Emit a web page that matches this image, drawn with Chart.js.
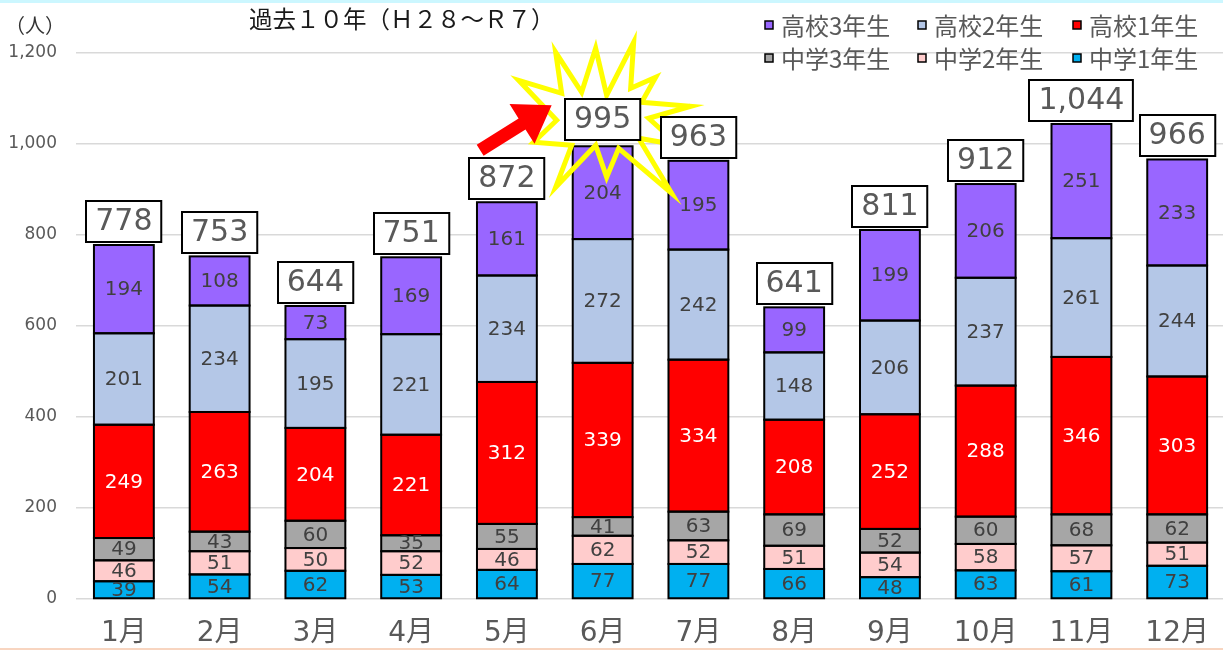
<!DOCTYPE html>
<html>
<head>
<meta charset="utf-8">
<script src="https://cdn.jsdelivr.net/npm/chart.js@4/dist/chart.umd.min.js"></script>
<style>
  html, body { margin:0; padding:0; background:#fff; overflow:hidden; width:1223px; height:650px; }
  #wrap { position:relative; width:1227px; height:650px; }
  #topline { position:absolute; left:0; top:0; width:1223px; height:3px; background:#CCF7FF; z-index:2; }
  #botline { position:absolute; left:0; top:648px; width:1223px; height:2px; background:#F8D5C0; z-index:2; }
</style>
</head>
<body>
<div id="wrap">
  <canvas id="c" width="1227" height="650" style="width:1227px;height:650px;display:block"></canvas>
</div>
<div id="topline"></div>
<div id="botline"></div>
<script>
// ---- data ----
const categories = ['1月','2月','3月','4月','5月','6月','7月','8月','9月','10月','11月','12月'];
const chu1 = [39, 54, 62, 53, 64, 77, 77, 66, 48, 63, 61, 73];
const chu2 = [46, 51, 50, 52, 46, 62, 52, 51, 54, 58, 57, 51];
const chu3 = [49, 43, 60, 35, 55, 41, 63, 69, 52, 60, 68, 62];
const kou1 = [249, 263, 204, 221, 312, 339, 334, 208, 252, 288, 346, 303];
const kou2 = [201, 234, 195, 221, 234, 272, 242, 148, 206, 237, 261, 244];
const kou3 = [194, 108, 73, 169, 161, 204, 195, 99, 199, 206, 251, 233];
const seriesNames = ['中学1年生','中学2年生','中学3年生','高校1年生','高校2年生','高校3年生'];
const yTicks = [0, 200, 400, 600, 800, 1000, 1200];
const titleText = '過去１０年（Ｈ２８～Ｒ７）';
const unitText = '（人）';
const highlightIndex = 5; // 6月

const colors = ['#00B0F0','#FFCCCC','#A6A6A6','#FF0000','#B4C7E7','#9966FF'];
const labelColors = ['#404040','#404040','#404040','#FFFFFF','#404040','#404040'];
const seriesData = [chu1, chu2, chu3, kou1, kou2, kou3];

const NUMFONT = '"DejaVu Sans", "Noto Sans CJK JP", sans-serif';
const JPFONT = '"Noto Sans CJK JP", "DejaVu Sans", sans-serif';

const datasets = seriesData.map((d, i) => ({
  label: seriesNames[i],
  data: d,
  backgroundColor: colors[i],
  borderWidth: 0,
  barPercentage: 0.625,
  categoryPercentage: 1.0,
  stack: 's'
}));

const fmt = v => v.toLocaleString('en-US');

const overlay = {
  id: 'overlay',
  afterDatasetsDraw(chart) {
    const ctx = chart.ctx;
    const xs = chart.scales.x, ys = chart.scales.y;
    ctx.save();
    // segment borders
    ctx.strokeStyle = '#000000';
    ctx.lineWidth = 2;
    chart.data.datasets.forEach((ds, di) => {
      const meta = chart.getDatasetMeta(di);
      meta.data.forEach((bar) => {
        const p = bar.getProps(['x','y','base','width'], true);
        ctx.strokeRect(p.x - p.width/2, p.y, p.width, p.base - p.y);
      });
    });
    // segment labels
    ctx.font = '20px ' + NUMFONT;
    ctx.textAlign = 'center';
    ctx.textBaseline = 'middle';
    chart.data.datasets.forEach((ds, di) => {
      const meta = chart.getDatasetMeta(di);
      meta.data.forEach((bar, i) => {
        const yc = (bar.y + bar.base) / 2;
        ctx.fillStyle = labelColors[di];
        ctx.fillText(String(ds.data[i]), bar.x, yc + 1);
      });
    });

    // starburst + arrow around highlighted month (decoration anchored to scales)
    const totals = categories.map((_, i) => seriesData.reduce((s, d) => s + d[i], 0));
    const hx = xs.getPixelForValue(highlightIndex);
    const hy = ys.getPixelForValue(totals[highlightIndex]);
    const starPts = [
      [520,80],[563,93],[557,52],[583,92],[597,48],[608,95],[635,42],[632,88],
      [657,77],[643,102],[692,106],[650,118],[680,145],[640,138],[673,193],[620,148],
      [608,177],[597,145],[557,187],[573,145],[535,142],[558,120]
    ];
    ctx.beginPath();
    starPts.forEach((p, k) => {
      const px = hx + (p[0] - 604), py = hy + (p[1] - 146);
      if (k === 0) ctx.moveTo(px, py); else ctx.lineTo(px, py);
    });
    ctx.closePath();
    ctx.lineJoin = 'miter';
    ctx.strokeStyle = '#FFFF00';
    ctx.lineWidth = 5;
    ctx.stroke();

    // arrow
    const tail = [481.5, 150], tip = [553, 105];
    const dx = tip[0]-tail[0], dy = tip[1]-tail[1];
    const L = Math.hypot(dx, dy);
    const u = [dx/L, dy/L], n = [-u[1], u[0]];
    const headLen = 35, shaftHW = 6.5, headHW = 23.5;
    const bc = [tip[0]-u[0]*headLen, tip[1]-u[1]*headLen];
    const poly = [
      [tail[0]-n[0]*shaftHW, tail[1]-n[1]*shaftHW],
      [bc[0]-n[0]*shaftHW, bc[1]-n[1]*shaftHW],
      [bc[0]-n[0]*headHW, bc[1]-n[1]*headHW],
      tip,
      [bc[0]+n[0]*headHW, bc[1]+n[1]*headHW],
      [bc[0]+n[0]*shaftHW, bc[1]+n[1]*shaftHW],
      [tail[0]+n[0]*shaftHW, tail[1]+n[1]*shaftHW]
    ];
    ctx.beginPath();
    poly.forEach((p, k) => {
      const px = hx + (p[0]-604), py = hy + (p[1]-146);
      if (k === 0) ctx.moveTo(px, py); else ctx.lineTo(px, py);
    });
    ctx.closePath();
    ctx.fillStyle = '#FF0000';
    ctx.fill();

    // total boxes
    ctx.font = '30px ' + NUMFONT;
    totals.forEach((t, i) => {
      const x = xs.getPixelForValue(i);
      const yTop = ys.getPixelForValue(t);
      const txt = fmt(t);
      const w = ctx.measureText(txt).width + 18;
      const h = 41;
      const gap = (i === highlightIndex) ? 6 : 3;
      const bx = Math.round(x - w/2), by = Math.round(yTop - gap - h);
      ctx.fillStyle = '#FFFFFF';
      ctx.fillRect(bx, by, w, h);
      ctx.strokeStyle = '#000000';
      ctx.lineWidth = 2;
      ctx.strokeRect(bx, by, w, h);
      ctx.fillStyle = '#595959';
      ctx.textAlign = 'center';
      ctx.textBaseline = 'middle';
      ctx.fillText(txt, x, by + h/2 + 1);
    });

    // title
    ctx.font = '23.5px ' + JPFONT;
    ctx.fillStyle = '#1a1a1a';
    ctx.textAlign = 'left';
    ctx.textBaseline = 'middle';
    ctx.fillText(titleText, 249, 19);

    // unit
    ctx.font = '20px ' + JPFONT;
    ctx.fillStyle = '#333333';
    ctx.fillText(unitText, 5, 25);

    // legend (reverse order, 2 rows x 3 cols)
    const order = [5, 4, 3, 2, 1, 0];
    const colX = [765, 918, 1073];
    const rowY = [25, 58];
    ctx.font = '24px ' + JPFONT;
    order.forEach((di, k) => {
      const r = Math.floor(k / 3), c = k % 3;
      const x = colX[c], y = rowY[r];
      ctx.fillStyle = colors[di];
      ctx.fillRect(x, y - 4, 8, 8);
      ctx.strokeStyle = '#000';
      ctx.lineWidth = 1.5;
      ctx.strokeRect(x, y - 4, 8, 8);
      ctx.fillStyle = '#595959';
      ctx.textAlign = 'left';
      ctx.fillText(seriesNames[di], x + 16, y + 1);
    });
    ctx.restore();
  }
};

new Chart(document.getElementById('c'), {
  type: 'bar',
  data: { labels: categories, datasets },
  options: {
    responsive: false,
    animation: false,
    layout: { padding: { top: 53, right: 0, left: 0, bottom: 0 } },
    plugins: { legend: { display: false }, title: { display: false }, tooltip: { enabled: false } },
    scales: {
      x: {
        stacked: true,
        grid: { display: false, drawTicks: false },
        border: { display: false },
        ticks: { color: '#595959', font: { size: 28, family: NUMFONT }, padding: 18, maxRotation: 0 },
        afterFit(s) { s.height = 51; }
      },
      y: {
        stacked: true,
        min: 0, max: 1200,
        afterBuildTicks(s) { s.ticks = yTicks.map(v => ({ value: v })); },
        grid: { color: '#D9D9D9', lineWidth: 1.5, drawTicks: false },
        border: { display: false },
        ticks: { color: '#595959', font: { size: 17, family: NUMFONT }, padding: 19,
                 callback: v => fmt(v) },
        afterFit(s) { s.width = 76; }
      }
    }
  },
  plugins: [overlay]
});
</script>
</body>
</html>
